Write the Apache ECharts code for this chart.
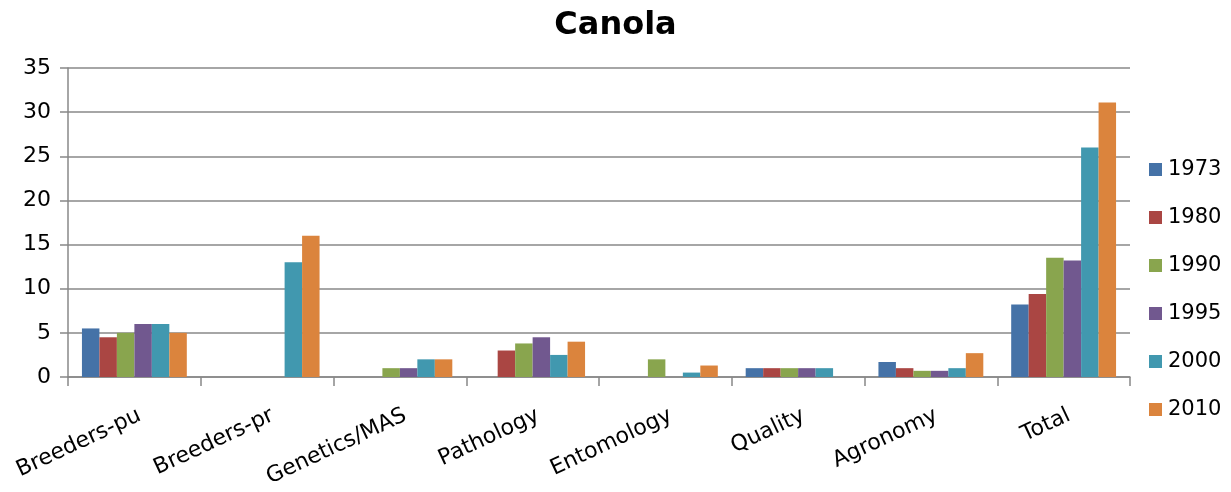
<!DOCTYPE html>
<html><head><meta charset="utf-8">
<script src="https://cdn.jsdelivr.net/npm/echarts@6/dist/echarts.min.js"></script>
<style>html,body{margin:0;padding:0;background:#fff}#c{width:1231px;height:492px}</style>
</head><body><div id="c"></div>
<script>
const categories = ['Breeders-pu','Breeders-pr','Genetics/MAS','Pathology','Entomology','Quality','Agronomy','Total'];
const years = ['1973','1980','1990','1995','2000','2010'];
const s1973 = [5.5, null, null, null, null, 1, 1.7, 8.2];
const s1980 = [4.5, null, null, 3, null, 1, 1, 9.4];
const s1990 = [5, null, 1, 3.8, 2, 1, 0.7, 13.5];
const s1995 = [6, null, 1, 4.5, null, 1, 0.7, 13.2];
const s2000 = [6, 13, 2, 2.5, 0.5, 1, 1, 26];
const s2010 = [5, 16, 2, 4, 1.3, null, 2.7, 31.1];
const yTicks = [0,5,10,15,20,25,30,35];
const colors = ['#4572A7','#AA4643','#89A54E','#71588F','#4198AF','#DB843D'];
const seriesData = [s1973,s1980,s1990,s1995,s2000,s2010];
const font = 'DejaVu Sans';
const chart = echarts.init(document.getElementById('c'));
chart.setOption({
  animation:false,
  textStyle:{fontFamily:font},
  title:{text:'Canola',left:'center',top:5,textStyle:{fontFamily:font,fontSize:32,fontWeight:'bold',color:'#000'}},
  color:colors,
  legend:{orient:'vertical',left:1144,top:154,itemWidth:13,itemHeight:13,itemGap:27,icon:'rect',
    textStyle:{fontFamily:font,fontSize:21,color:'#000',padding:[0,0,0,1]},data:years},
  grid:{left:68,right:101,top:68,bottom:115},
  xAxis:{type:'category',data:categories,
    axisLine:{lineStyle:{color:'#888',width:1.5}},
    axisTick:{show:true,length:9,alignWithLabel:false,lineStyle:{color:'#888',width:1.5}},
    axisLabel:{rotate:25,fontSize:22,color:'#000',margin:40,padding:[0,-6,0,0],fontFamily:font,interval:0}},
  yAxis:{type:'value',min:yTicks[0],max:yTicks[yTicks.length-1],interval:5,
    axisLine:{show:true,lineStyle:{color:'#888',width:1.5}},
    axisTick:{show:true,length:8,lineStyle:{color:'#888',width:1.5}},
    splitLine:{lineStyle:{color:'#888',width:1.5}},
    axisLabel:{fontSize:22,color:'#000',margin:17,fontFamily:font}},
  series:years.map((y,i)=>({name:y,type:'bar',data:seriesData[i],barGap:'0%',barCategoryGap:'21%',
    itemStyle:{color:colors[i]}}))
});
</script></body></html>
